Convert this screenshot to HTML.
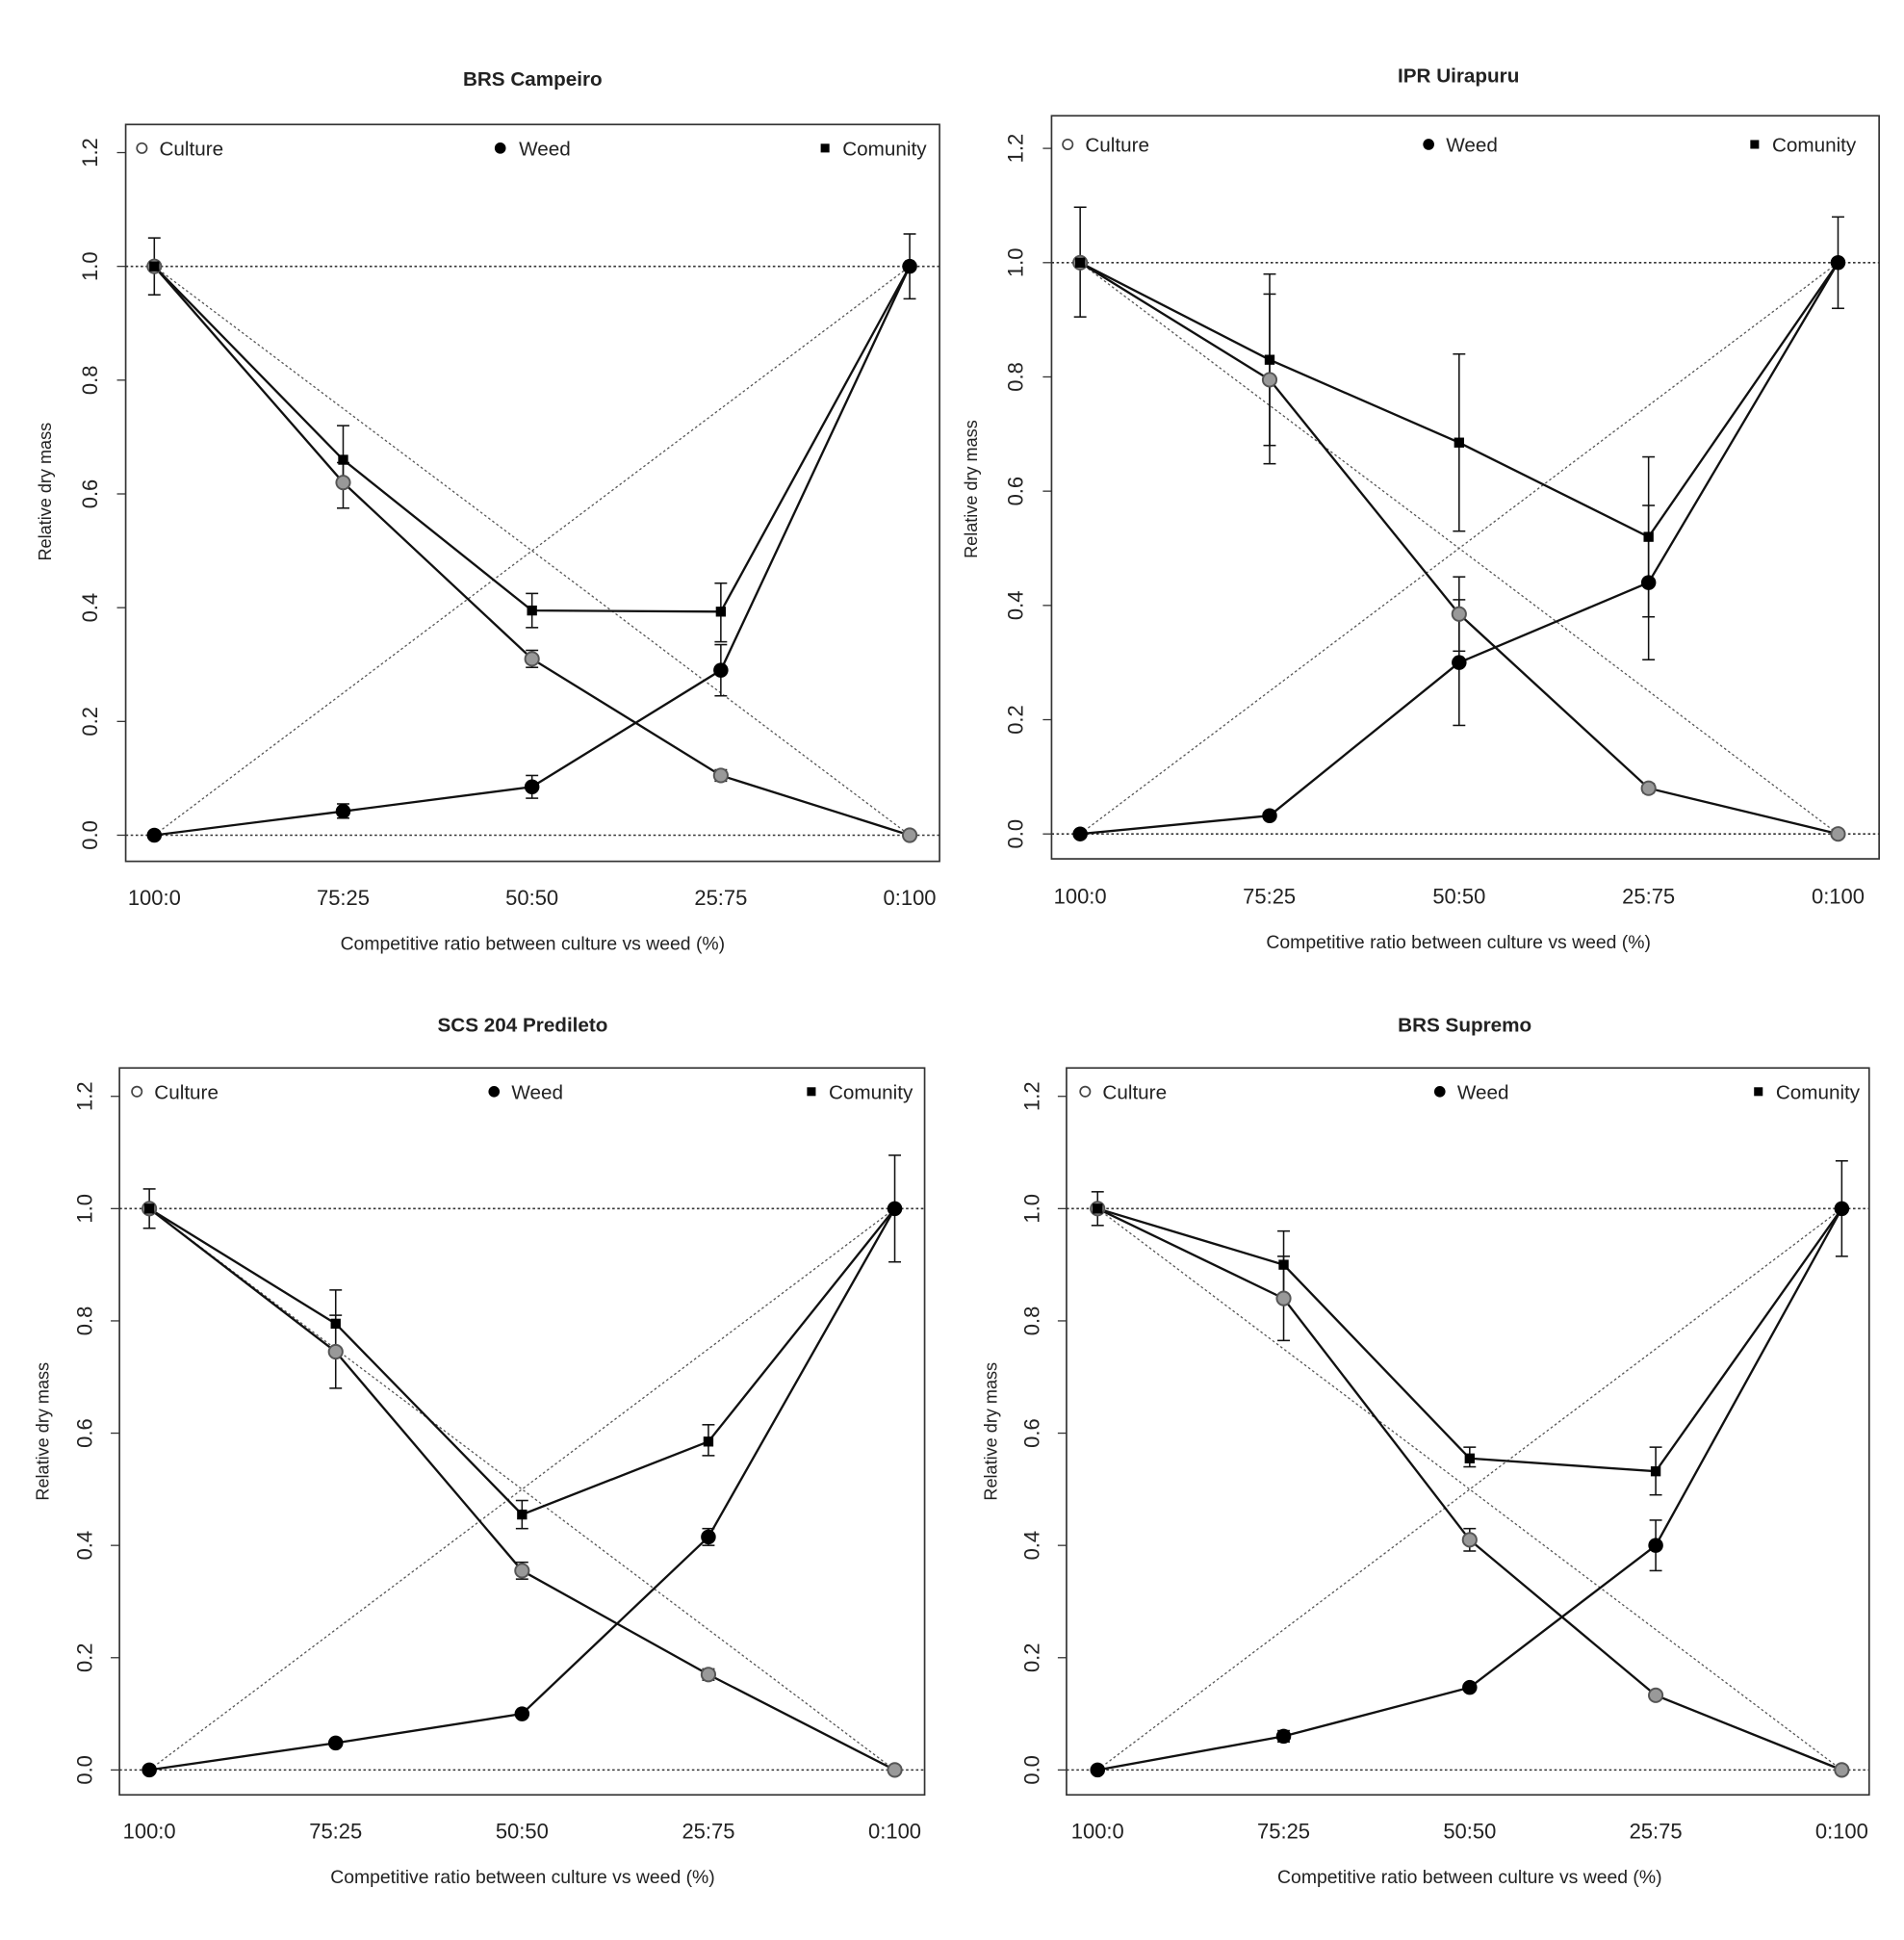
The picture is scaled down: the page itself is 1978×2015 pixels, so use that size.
<!DOCTYPE html>
<html><head><meta charset="utf-8"><style>
html,body{margin:0;padding:0;background:#fff;}
svg{display:block;}
text{font-family:"Liberation Sans",Arial,sans-serif;fill:#222;}
</style></head><body>
<svg id="s" width="1978" height="2015" viewBox="0 0 1530 1558.6" xmlns="http://www.w3.org/2000/svg">
<rect width="1530" height="1559" fill="#fff"/>
<g id="plots"></g>
<!-- Titles -->
<text x="428" y="69" font-size="16" font-weight="bold" text-anchor="middle">BRS Campeiro</text>
<text x="1172" y="66" font-size="16" font-weight="bold" text-anchor="middle">IPR Uirapuru</text>
<text x="420" y="829" font-size="16" font-weight="bold" text-anchor="middle">SCS 204 Predileto</text>
<text x="1177" y="829" font-size="16" font-weight="bold" text-anchor="middle">BRS Supremo</text>
<!-- x tick labels -->
<g font-size="17" text-anchor="middle">
<text x="124" y="727">100:0</text><text x="275.75" y="727">75:25</text><text x="427.5" y="727">50:50</text><text x="579.25" y="727">25:75</text><text x="731" y="727">0:100</text>
<text x="868" y="726">100:0</text><text x="1020" y="726">75:25</text><text x="1172.5" y="726">50:50</text><text x="1324.75" y="726">25:75</text><text x="1477" y="726">0:100</text>
<text x="120" y="1477">100:0</text><text x="269.75" y="1477">75:25</text><text x="419.5" y="1477">50:50</text><text x="569.25" y="1477">25:75</text><text x="719" y="1477">0:100</text>
<text x="882" y="1477">100:0</text><text x="1031.5" y="1477">75:25</text><text x="1181" y="1477">50:50</text><text x="1330.5" y="1477">25:75</text><text x="1480" y="1477">0:100</text>
</g>
<!-- x labels -->
<g font-size="15" text-anchor="middle">
<text x="428" y="763">Competitive ratio between culture vs weed (%)</text>
<text x="1172" y="762">Competitive ratio between culture vs weed (%)</text>
<text x="420" y="1513">Competitive ratio between culture vs weed (%)</text>
<text x="1181" y="1513">Competitive ratio between culture vs weed (%)</text>
</g>
<!-- y labels -->
<g font-size="14" text-anchor="middle">
<text transform="translate(41,395) rotate(-90)">Relative dry mass</text>
<text transform="translate(785,393) rotate(-90)">Relative dry mass</text>
<text transform="translate(39,1150) rotate(-90)">Relative dry mass</text>
<text transform="translate(801,1150) rotate(-90)">Relative dry mass</text>
</g>
<!-- y tick labels -->
<g font-size="17" text-anchor="middle">
<text transform="translate(78,671) rotate(-90)">0.0</text><text transform="translate(78,579.6) rotate(-90)">0.2</text><text transform="translate(78,488.2) rotate(-90)">0.4</text><text transform="translate(78,396.8) rotate(-90)">0.6</text><text transform="translate(78,305.4) rotate(-90)">0.8</text><text transform="translate(78,214) rotate(-90)">1.0</text><text transform="translate(78,122.6) rotate(-90)">1.2</text>
<text transform="translate(822,670) rotate(-90)">0.0</text><text transform="translate(822,578.2) rotate(-90)">0.2</text><text transform="translate(822,486.4) rotate(-90)">0.4</text><text transform="translate(822,394.6) rotate(-90)">0.6</text><text transform="translate(822,302.8) rotate(-90)">0.8</text><text transform="translate(822,211) rotate(-90)">1.0</text><text transform="translate(822,119.2) rotate(-90)">1.2</text>
<text transform="translate(74,1422) rotate(-90)">0.0</text><text transform="translate(74,1331.8) rotate(-90)">0.2</text><text transform="translate(74,1241.6) rotate(-90)">0.4</text><text transform="translate(74,1151.4) rotate(-90)">0.6</text><text transform="translate(74,1061.2) rotate(-90)">0.8</text><text transform="translate(74,971) rotate(-90)">1.0</text><text transform="translate(74,880.8) rotate(-90)">1.2</text>
<text transform="translate(835,1422) rotate(-90)">0.0</text><text transform="translate(835,1331.8) rotate(-90)">0.2</text><text transform="translate(835,1241.6) rotate(-90)">0.4</text><text transform="translate(835,1151.4) rotate(-90)">0.6</text><text transform="translate(835,1061.2) rotate(-90)">0.8</text><text transform="translate(835,971) rotate(-90)">1.0</text><text transform="translate(835,880.8) rotate(-90)">1.2</text>
</g>
<!-- legends -->
<g font-size="16">
<text x="128" y="125">Culture</text><text x="417" y="125">Weed</text><text x="677" y="125">Comunity</text>
<text x="872" y="122">Culture</text><text x="1162" y="122">Weed</text><text x="1424" y="122">Comunity</text>
<text x="124" y="883">Culture</text><text x="411" y="883">Weed</text><text x="666" y="883">Comunity</text>
<text x="886" y="883">Culture</text><text x="1171" y="883">Weed</text><text x="1427" y="883">Comunity</text>
</g>
</svg>
<script>
var NS="http://www.w3.org/2000/svg";
var g=document.getElementById("plots");
function el(n,a){var e=document.createElementNS(NS,n);for(var k in a)e.setAttribute(k,a[k]);g.appendChild(e);return e;}
var P=[
{L:101,R:755,T:100,B:692,x0:124,x1:731,y0:671,y1:214,leg:[114,402,663],ly:119,
 C:[1,.62,.31,.105,0],Ce:[[.95,1.05],[.575,.655],[.295,.325],[.095,.115],null],
 W:[0,.042,.085,.29,1],We:[null,[.03,.055],[.065,.105],[.245,.335],[.943,1.057]],
 M:[1,.66,.395,.393,1],Me:[null,[.62,.72],[.365,.425],[.34,.443],null]},
{L:845,R:1510,T:93,B:690,x0:868,x1:1477,y0:670,y1:211,leg:[858,1148,1410],ly:116,
 C:[1,.795,.385,.08,0],Ce:[[.905,1.097],[.648,.945],[.32,.45],[.072,.088],null],
 W:[0,.032,.30,.44,1],We:[null,null,[.19,.41],[.305,.575],[.92,1.08]],
 M:[1,.83,.685,.52,1],Me:[null,[.68,.98],[.53,.84],[.38,.66],null]},
{L:96,R:743,T:858,B:1442,x0:120,x1:719,y0:1422,y1:971,leg:[110,397,652],ly:877,
 C:[1,.745,.355,.17,0],Ce:[[.965,1.035],[.68,.81],[.34,.37],[.16,.18],null],
 W:[0,.048,.10,.415,1],We:[null,null,null,[.40,.43],[.905,1.095]],
 M:[1,.795,.455,.585,1],Me:[null,[.74,.855],[.43,.48],[.56,.615],null]},
{L:857,R:1502,T:858,B:1442,x0:882,x1:1480,y0:1422,y1:971,leg:[872,1157,1413],ly:877,
 C:[1,.84,.41,.133,0],Ce:[[.97,1.03],[.765,.915],[.39,.43],null,null],
 W:[0,.06,.147,.40,1],We:[null,[.05,.07],null,[.355,.445],[.915,1.085]],
 M:[1,.90,.555,.532,1],Me:[null,[.84,.96],[.54,.575],[.49,.575],null]}
];
P.forEach(function(p){
 function X(i){return p.x0+(p.x1-p.x0)*i/4;}
 function Y(v){return p.y0+(p.y1-p.y0)*v;}
 el("rect",{x:p.L,y:p.T,width:p.R-p.L,height:p.B-p.T,fill:"none",stroke:"#333","stroke-width":1.3});
 for(var k=0;k<=6;k++){var yy=Y(k*0.2);el("line",{x1:p.L-7,x2:p.L,y1:yy,y2:yy,stroke:"#333","stroke-width":1});}
 var d={stroke:"#333","stroke-width":1.2,"stroke-dasharray":"2,2",fill:"none"};
 el("line",Object.assign({x1:p.L,x2:p.R,y1:Y(1),y2:Y(1)},d));
 el("line",Object.assign({x1:p.L,x2:p.R,y1:Y(0),y2:Y(0)},d));
 var d2={stroke:"#555","stroke-width":1,"stroke-dasharray":"2,2",fill:"none"};
 el("line",Object.assign({x1:X(0),y1:Y(1),x2:X(4),y2:Y(0)},d2));
 el("line",Object.assign({x1:X(0),y1:Y(0),x2:X(4),y2:Y(1)},d2));
 [p.C,p.W,p.M].forEach(function(s){
  var pts=s.map(function(v,i){return X(i)+","+Y(v);}).join(" ");
  el("polyline",{points:pts,fill:"none",stroke:"#111","stroke-width":1.8});
 });
 [p.Ce,p.We,p.Me].forEach(function(E){
  E.forEach(function(e,i){if(!e)return;var x=X(i);
   el("line",{x1:x,x2:x,y1:Y(e[0]),y2:Y(e[1]),stroke:"#111","stroke-width":1.2});
   el("line",{x1:x-5,x2:x+5,y1:Y(e[0]),y2:Y(e[0]),stroke:"#111","stroke-width":1.2});
   el("line",{x1:x-5,x2:x+5,y1:Y(e[1]),y2:Y(e[1]),stroke:"#111","stroke-width":1.2});
  });
 });
 p.C.forEach(function(v,i){el("circle",{cx:X(i),cy:Y(v),r:5.5,fill:"#999",stroke:"#555","stroke-width":1.5});});
 p.W.forEach(function(v,i){el("circle",{cx:X(i),cy:Y(v),r:6,fill:"#000"});});
 p.M.forEach(function(v,i){el("rect",{x:X(i)-4,y:Y(v)-4,width:8,height:8,fill:"#000"});});
 el("circle",{cx:p.leg[0],cy:p.ly,r:4,fill:"none",stroke:"#444","stroke-width":1.3});
 el("circle",{cx:p.leg[1],cy:p.ly,r:4.5,fill:"#000"});
 el("rect",{x:p.leg[2]-3.5,y:p.ly-3.5,width:7,height:7,fill:"#000"});
});
</script>
</body></html>
